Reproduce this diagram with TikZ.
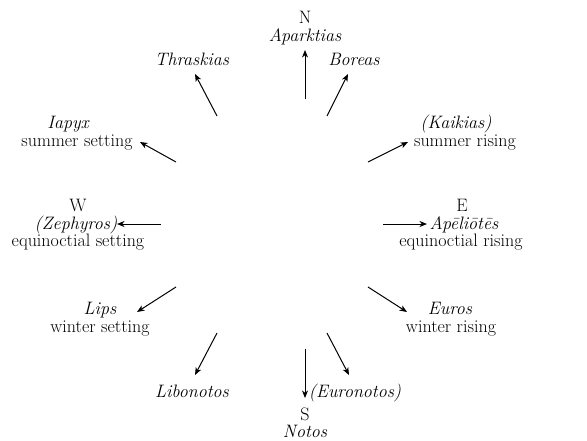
\documentclass[tikz,border=0pt]{standalone}
\usepackage{fontspec}
\usetikzlibrary{arrows.meta}
\begin{document}
\begin{tikzpicture}[x=1pt,y=-1pt,
  lbl/.style={anchor=base, inner sep=0pt, font=\fontsize{18}{20}\selectfont},
  it/.style={anchor=base, inner sep=0pt, font=\fontsize{18}{20}\selectfont\itshape},
  wind/.style={line width=1pt, -{Stealth[length=7.5pt,width=6pt,inset=2.2pt]}}]
\useasboundingbox (0,0) rectangle (587,440);
% labels
\node[lbl] (N) at (305,23) {N};
\node[it] (aparktias) at (305,41) {Aparktias};
\node[it] (thraskias) at (192,65) {Thraskias};
\node[it] (boreas) at (354,65) {Boreas};
\node[it] (iapyx) at (68,128) {Iapyx};
\node[lbl] (sumset) at (77,146) {summer setting};
\node[it] (kaikias) at (456,128) {(Kaikias)};
\node[lbl] (sumris) at (465,146) {summer rising};
\node[lbl] (W) at (78,211) {W};
\node[it] (zephyros) at (76,229) {(Zephyros)};
\node[lbl] (eqset) at (78,246) {equinoctial setting};
\node[lbl] (E) at (462,211) {E};
\node[it] (apeliotes) at (464,229) {Apēliōtēs};
\node[lbl] (eqris) at (461,246) {equinoctial rising};
\node[it] (lips) at (100,314) {Lips};
\node[lbl] (winset) at (100,332) {winter setting};
\node[it] (euros) at (450,314) {Euros};
\node[lbl] (winris) at (451,332) {winter rising};
\node[it] (libonotos) at (192,397) {Libonotos};
\node[it] (euronotos) at (355,397) {(Euronotos)};
\node[lbl] (S) at (305,420) {S};
\node[it] (notos) at (305,437) {Notos};
% arrow ends
\coordinate (nT) at (305,99);  \coordinate (nH) at (305,50);
\coordinate (thT) at (217,116); \coordinate (thH) at (195,74);
\coordinate (boT) at (327,116); \coordinate (boH) at (348,74);
\coordinate (iaT) at (176,162); \coordinate (iaH) at (140,142);
\coordinate (kaT) at (368,162); \coordinate (kaH) at (408,142);
\coordinate (wT) at (161,224);  \coordinate (wH) at (117,224);
\coordinate (eT) at (383,224);  \coordinate (eH) at (427,224);
\coordinate (liT) at (176,287); \coordinate (liH) at (137,312);
\coordinate (euT) at (368,287); \coordinate (euH) at (407,312);
\coordinate (lbT) at (217,333); \coordinate (lbH) at (195,375);
\coordinate (enT) at (327,333); \coordinate (enH) at (349,375);
\coordinate (sT) at (305,349);  \coordinate (sH) at (305,398);
% arrows
\draw[wind] (nT) -- (nH);
\draw[wind] (thT) -- (thH);
\draw[wind] (boT) -- (boH);
\draw[wind] (iaT) -- (iaH);
\draw[wind] (kaT) -- (kaH);
\draw[wind] (wT) -- (wH);
\draw[wind] (eT) -- (eH);
\draw[wind] (liT) -- (liH);
\draw[wind] (euT) -- (euH);
\draw[wind] (lbT) -- (lbH);
\draw[wind] (enT) -- (enH);
\draw[wind] (sT) -- (sH);
\end{tikzpicture}
\end{document}
